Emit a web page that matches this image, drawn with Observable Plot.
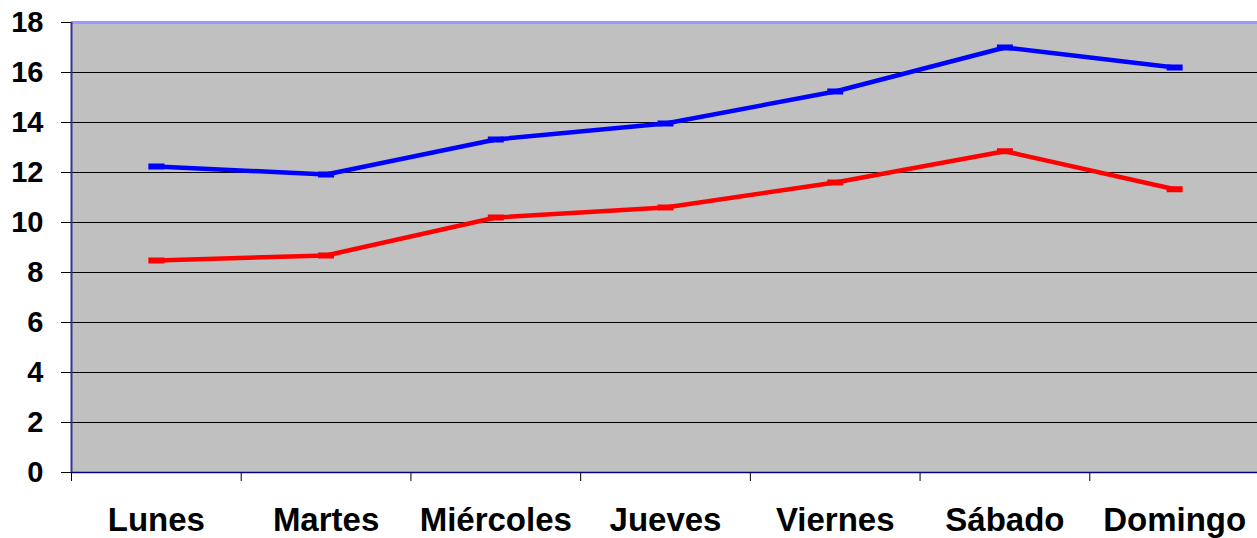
<!DOCTYPE html>
<html>
<head>
<meta charset="utf-8">
<script src="https://cdn.jsdelivr.net/npm/d3@7"></script>
<script src="https://cdn.jsdelivr.net/npm/@observablehq/plot@0.6"></script>
<style>
  html, body { margin: 0; padding: 0; background: #fff; }
  svg { display: block; }
</style>
</head>
<body>
<div id="chart"></div>
<script>
const days = ["Lunes", "Martes", "Miércoles", "Jueves", "Viernes", "Sábado", "Domingo"];
const blueValues = [12.24, 11.92, 13.32, 13.96, 15.24, 17.0, 16.2];
const redValues = [8.48, 8.68, 10.2, 10.6, 11.6, 12.85, 11.33];
const yTicks = [0, 2, 4, 6, 8, 10, 12, 14, 16, 18];

const series = [
  {name: "blue", color: "#0000FF", values: blueValues},
  {name: "red", color: "#FF0000", values: redValues}
];
const data = series.flatMap(s => s.values.map((v, i) => ({series: s.name, color: s.color, i: i + 0.5, day: days[i], value: v})));

const dash = {
  draw(context) {
    context.rect(-8, -3, 16, 6);
  }
};

const font = "'Liberation Sans', Arial, sans-serif";

const chart = Plot.plot({
  width: 1257,
  height: 538,
  marginLeft: 71,
  marginRight: 0,
  marginTop: 22,
  marginBottom: 66,
  style: {fontFamily: font, background: "#fff", overflow: "visible"},
  x: {type: "linear", domain: [0, 7], range: [71, 1259]},
  y: {domain: [0, 18]},
  marks: [
    Plot.frame({fill: "#C0C0C0", stroke: null}),
    Plot.ruleY(yTicks.filter(d => d > 0 && d < 18), {stroke: "#000", strokeWidth: 1}),
    Plot.ruleY([18], {stroke: "#9999FF", strokeWidth: 3}),
    Plot.ruleY([0], {stroke: "#000080", strokeWidth: 1.5}),
    Plot.ruleX([0], {stroke: "#333399", strokeWidth: 2}),
    Plot.axisY({ticks: yTicks, tickSize: 10, tickPadding: 18, fontSize: 29, fontWeight: "bold", label: null, stroke: "#000"}),
    Plot.axisX({ticks: d3.range(0, 8), tickSize: 9, tickFormat: () => "", label: null, stroke: "#000"}),
    Plot.axisX({ticks: days.map((d, i) => i + 0.5), tickSize: 0, tickPadding: 35, tickFormat: d => days[Math.floor(d)], fontSize: 33, fontWeight: "bold", label: null}),
    Plot.line(data, {x: "i", y: "value", z: "series", stroke: "color", strokeWidth: 4.5}),
    Plot.dot(data, {x: "i", y: "value", symbol: dash, fill: "color", stroke: null, r: 3})
  ]
});
document.getElementById("chart").append(chart);
</script>
</body>
</html>
